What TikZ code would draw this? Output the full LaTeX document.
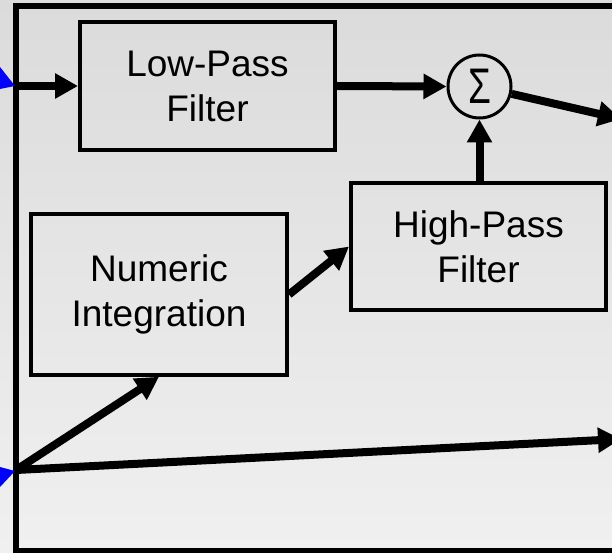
\documentclass[tikz,border=0pt]{standalone}
\usepackage{fontspec}
\setmainfont{Liberation Sans}
\usetikzlibrary{arrows.meta}
\definecolor{bgtop}{RGB}{219,219,219}
\definecolor{bgbot}{RGB}{240,240,240}
\definecolor{portblue}{RGB}{0,0,255}
\tikzset{
  blockbox/.style={draw=black, line width=4pt, rectangle, align=center,
    font=\fontsize{37}{45}\selectfont, inner sep=0pt},
  sumnode/.style={draw=black, line width=3pt, circle, inner sep=0pt, minimum size=63pt},
  sig/.style={line width=8pt, -{Triangle[length=23pt,width=24pt]}},
}
\begin{document}
\begin{tikzpicture}[x=1pt,y=-1pt]
\useasboundingbox (0,0) rectangle (612,553);
\clip (0,0) rectangle (612,553);
\fill[top color=bgtop, bottom color=bgbot] (0,0) rectangle (612,553);
% outer frame
\draw[line width=6pt] (15.5,6.5) rectangle (660,551);
% blue port markers
\fill[portblue] (0,67) -- (15,86) -- (0,89) -- cycle;
\fill[portblue] (0,467) -- (15,471) -- (0,487) -- cycle;
% blocks
\node[blockbox, minimum width=255pt, minimum height=128pt] (lowpass) at (207.5,86) {Low-Pass\\Filter};
\node[blockbox, minimum width=255pt, minimum height=127.5pt] (highpass) at (478.5,246.5) {High-Pass\\Filter};
\node[blockbox, minimum width=256pt, minimum height=160.5pt] (numint) at (159,294.5) {Numeric\\Integration};
\node[sumnode] (sum) at (479.5,86.5) {\scalebox{0.74}[1]{\fontsize{50}{50}\selectfont Σ}};
% coordinates
\coordinate (in1) at (16,86);
\coordinate (in2) at (16,470);
\coordinate (out1) at (621,119);
\coordinate (out2) at (621,439);
% connectors
\draw[sig] (in1) -- (lowpass.west);
\draw[sig] (lowpass.east) -- (sum.west);
\draw[sig] (highpass.north -| sum) -- (sum.south);
\draw[sig] (sum) -- (out1);
\draw[sig] (numint.east) -- (highpass.west);
\draw[sig] (in2) -- (numint.south);
\draw[sig] (in2) -- (out2);
\end{tikzpicture}
\end{document}
